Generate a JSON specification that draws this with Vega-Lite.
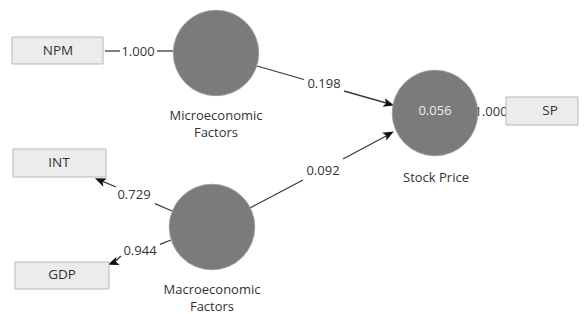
{
  "$schema": "https://vega.github.io/schema/vega-lite/v6.json",
  "width": 588,
  "height": 314,
  "padding": 0,
  "autosize": {"type": "none"},
  "background": "white",
  "config": {"view": {"stroke": null}, "font": "Open Sans"},
  "datasets": {
    "segments": [
      {"x": 105, "y": 51, "x2": 120, "y2": 51},
      {"x": 157, "y": 51, "x2": 174, "y2": 51},
      {"x": 257, "y": 66, "x2": 304, "y2": 79.5},
      {"x": 344, "y": 91, "x2": 388, "y2": 103.5},
      {"x": 250, "y": 208, "x2": 303, "y2": 180},
      {"x": 343, "y": 159, "x2": 388, "y2": 135},
      {"x": 172, "y": 211, "x2": 155, "y2": 203.7},
      {"x": 116, "y": 187, "x2": 101, "y2": 180.7},
      {"x": 171, "y": 240, "x2": 160, "y2": 244.3},
      {"x": 121, "y": 256, "x2": 114, "y2": 262.5}
    ],
    "arrows": [
      {"x": 389, "y": 104, "angle": 106},
      {"x": 389, "y": 134, "angle": 62},
      {"x": 100, "y": 180.5, "angle": 293},
      {"x": 113, "y": 262.8, "angle": 249}
    ],
    "circles": [
      {"x": 216, "y": 53},
      {"x": 435, "y": 113},
      {"x": 212, "y": 227}
    ],
    "boxes": [
      {"x": 12, "x2": 103, "y": 37, "y2": 64, "label": "NPM", "cx": 58, "cy": 51},
      {"x": 506, "x2": 578, "y": 97, "y2": 125, "label": "SP", "cx": 550, "cy": 111},
      {"x": 13, "x2": 106, "y": 149, "y2": 177, "label": "INT", "cx": 59, "cy": 163},
      {"x": 15, "x2": 109, "y": 262, "y2": 289, "label": "GDP", "cx": 62, "cy": 275}
    ],
    "coefs": [
      {"x": 138, "y": 52, "label": "1.000"},
      {"x": 491, "y": 112, "label": "1.000"},
      {"x": 324, "y": 84, "label": "0.198"},
      {"x": 323, "y": 171, "label": "0.092"},
      {"x": 134, "y": 195, "label": "0.729"},
      {"x": 140, "y": 251, "label": "0.944"}
    ],
    "names": [
      {"x": 216, "y": 116, "label": "Microeconomic"},
      {"x": 216, "y": 133, "label": "Factors"},
      {"x": 436, "y": 178, "label": "Stock Price"},
      {"x": 212, "y": 290, "label": "Macroeconomic"},
      {"x": 212, "y": 307, "label": "Factors"}
    ],
    "inner": [
      {"x": 435, "y": 111, "label": "0.056"}
    ]
  },
  "layer": [
    {
      "data": {"name": "segments"},
      "mark": {"type": "rule", "color": "#3a3a3a", "strokeWidth": 1.3},
      "encoding": {
        "x": {"field": "x", "type": "quantitative", "scale": {"domain": [0, 588], "nice": false, "zero": false}, "axis": null},
        "y": {"field": "y", "type": "quantitative", "scale": {"domain": [0, 314], "reverse": true, "nice": false, "zero": false}, "axis": null},
        "x2": {"field": "x2"},
        "y2": {"field": "y2"}
      }
    },
    {
      "data": {"name": "arrows"},
      "mark": {"type": "point", "filled": true, "color": "#111111", "opacity": 1, "shape": "M0,-1L0.8,1L0,0.55L-0.8,1Z", "size": 120},
      "encoding": {
        "x": {"field": "x", "type": "quantitative"},
        "y": {"field": "y", "type": "quantitative"},
        "angle": {"field": "angle", "type": "quantitative", "scale": null}
      }
    },
    {
      "data": {"name": "coefs"},
      "mark": {"type": "text", "fontSize": 13, "color": "#333333", "align": "center", "baseline": "middle"},
      "encoding": {
        "x": {"field": "x", "type": "quantitative"},
        "y": {"field": "y", "type": "quantitative"},
        "text": {"field": "label"}
      }
    },
    {
      "data": {"name": "circles"},
      "mark": {"type": "point", "shape": "circle", "filled": true, "color": "#7b7b7b", "stroke": "#9a9a9a", "strokeWidth": 1, "opacity": 1, "size": 7300},
      "encoding": {
        "x": {"field": "x", "type": "quantitative"},
        "y": {"field": "y", "type": "quantitative"}
      }
    },
    {
      "data": {"name": "inner"},
      "mark": {"type": "text", "fontSize": 13, "color": "#ececec", "align": "center", "baseline": "middle"},
      "encoding": {
        "x": {"field": "x", "type": "quantitative"},
        "y": {"field": "y", "type": "quantitative"},
        "text": {"field": "label"}
      }
    },
    {
      "data": {"name": "boxes"},
      "mark": {"type": "rect", "fill": "#ececec", "stroke": "#b8b8b8", "strokeWidth": 1},
      "encoding": {
        "x": {"field": "x", "type": "quantitative"},
        "x2": {"field": "x2"},
        "y": {"field": "y", "type": "quantitative"},
        "y2": {"field": "y2"}
      }
    },
    {
      "data": {"name": "boxes"},
      "mark": {"type": "text", "fontSize": 13.5, "color": "#333333", "align": "center", "baseline": "middle"},
      "encoding": {
        "x": {"field": "cx", "type": "quantitative"},
        "y": {"field": "cy", "type": "quantitative"},
        "text": {"field": "label"}
      }
    },
    {
      "data": {"name": "names"},
      "mark": {"type": "text", "fontSize": 13, "color": "#333333", "align": "center", "baseline": "middle"},
      "encoding": {
        "x": {"field": "x", "type": "quantitative"},
        "y": {"field": "y", "type": "quantitative"},
        "text": {"field": "label"}
      }
    }
  ]
}
